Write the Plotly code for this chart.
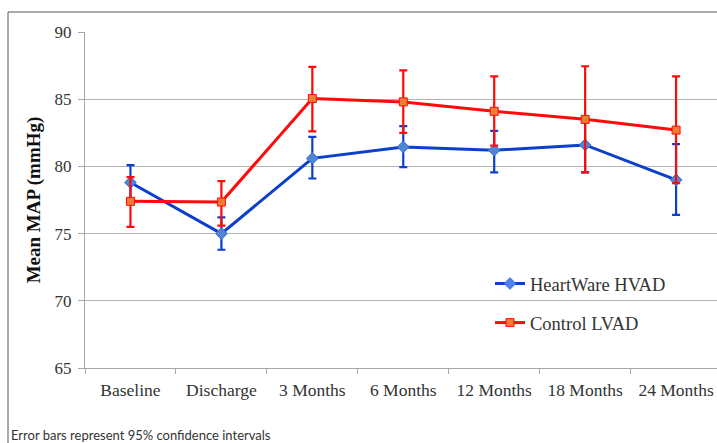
import plotly.graph_objects as go

# Time points on the x axis
timepoints = ["Baseline", "Discharge", "3 Months", "6 Months",
              "12 Months", "18 Months", "24 Months"]

# HeartWare HVAD: mean MAP with 95% CI bounds
hvad_mean = [78.8, 75.0, 80.6, 81.45, 81.2, 81.6, 79.0]
hvad_upper = [80.1, 76.2, 82.2, 83.0, 82.65, 83.7, 81.65]
hvad_lower = [77.5, 73.8, 79.1, 79.95, 79.55, 79.55, 76.4]

# Control LVAD: mean MAP with 95% CI bounds
ctrl_mean = [77.4, 77.35, 85.05, 84.8, 84.1, 83.5, 82.7]
ctrl_upper = [79.2, 78.9, 87.4, 87.15, 86.7, 87.45, 86.7]
ctrl_lower = [75.5, 75.6, 82.6, 82.5, 81.55, 79.55, 78.75]

y_ticks = [65, 70, 75, 80, 85, 90]

serif = "Liberation Serif, Times New Roman, serif"
BLUE = "#0b3fcc"
RED = "#ff0a0a"


def err(mean, upper, lower):
    return dict(
        type="data", symmetric=False,
        array=[u - m for u, m in zip(upper, mean)],
        arrayminus=[m - l for m, l in zip(mean, lower)],
        thickness=2.2, width=4,
    )


fig = go.Figure()
fig.add_trace(go.Scatter(
    x=timepoints, y=hvad_mean, name="HeartWare HVAD",
    mode="lines+markers", legendgroup="a", legendrank=1,
    line=dict(color=BLUE, width=3),
    marker=dict(symbol="diamond", size=9, color="#4f86d6",
                line=dict(color="#3a6fc8", width=1)),
    error_y=dict(color=BLUE, **err(hvad_mean, hvad_upper, hvad_lower)),
))
fig.add_trace(go.Scatter(
    x=timepoints, y=ctrl_mean, name="Control LVAD",
    mode="lines+markers", legendgroup="b", legendrank=2,
    line=dict(color=RED, width=3),
    marker=dict(symbol="square", size=8, color="#f07e32",
                line=dict(color=RED, width=1)),
    error_y=dict(color=RED, **err(ctrl_mean, ctrl_upper, ctrl_lower)),
))

W, H = 717, 443
L, R, T, B = 85, 0, 32, 75
pw, ph = W - L - R, H - T - B


def px_x(p):
    return (p - L) / pw


def px_y(p):
    return (H - B - p) / ph


# Outer chart frame (left and top edges)
frame = dict(color="#595959", width=1)
fig.add_shape(type="line", xref="paper", yref="paper",
              x0=px_x(8), x1=px_x(760), y0=px_y(12), y1=px_y(12), line=frame)
fig.add_shape(type="line", xref="paper", yref="paper",
              x0=px_x(8), x1=px_x(8), y0=px_y(12), y1=px_y(480), line=frame)

fig.add_annotation(
    text="Error bars represent 95% confidence intervals",
    xref="paper", yref="paper", x=px_x(9), y=px_y(435),
    xanchor="left", yanchor="middle", showarrow=False,
    font=dict(family="Lato, Liberation Sans, sans-serif", size=13, color="#333333"),
)

fig.update_layout(
    width=W, height=H,
    margin=dict(l=L, r=R, t=T, b=B),
    paper_bgcolor="white", plot_bgcolor="white",
    font=dict(family=serif, color="#333333"),
    legend=dict(
        x=px_x(490), y=px_y(265), xanchor="left", yanchor="top",
        bgcolor="rgba(0,0,0,0)", font=dict(family=serif, size=18.5, color="#333333"),
        traceorder="grouped", tracegroupgap=12, itemwidth=30,
    ),
    xaxis=dict(
        type="category", range=[-0.5, 6.45],
        tickson="boundaries", ticks="outside", ticklen=5, tickcolor="#a6a6a6",
        showgrid=False, showline=True, linecolor="#a6a6a6", linewidth=1,
        tickfont=dict(family=serif, size=17.5, color="#333333"),
        ticklabelstandoff=6,
        fixedrange=True,
    ),
    yaxis=dict(
        range=[65, 90], tickvals=y_ticks,
        ticks="outside", ticklen=6, tickcolor="#a6a6a6",
        showgrid=True, gridcolor="#b4b4b4", gridwidth=1,
        showline=True, linecolor="#a6a6a6", linewidth=1,
        zeroline=False,
        tickfont=dict(family=serif, size=17, color="#333333"),
        ticklabelstandoff=3,
        title=dict(text="<b>Mean MAP (mmHg)</b>", standoff=8,
                   font=dict(family=serif, size=19, color="#111111")),
    ),
)

fig.write_html("out.html")
